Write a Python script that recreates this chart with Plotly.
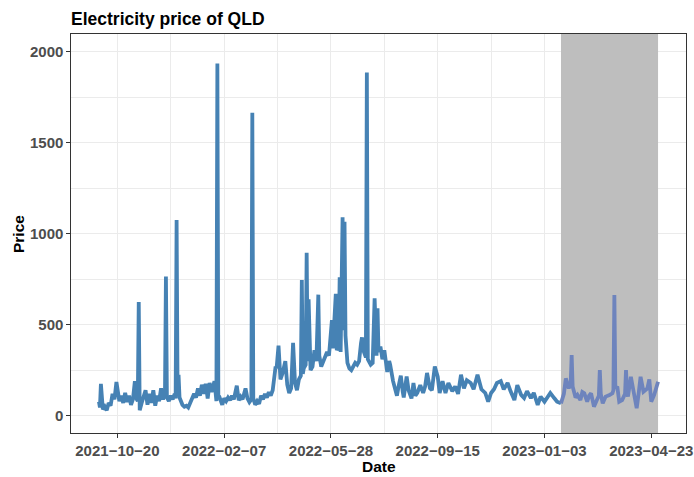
import plotly.graph_objects as go

# ---- data ----
actual_dates = [
    "2021-10-01","2021-10-02","2021-10-03","2021-10-05","2021-10-07","2021-10-09","2021-10-11","2021-10-13",
    "2021-10-15","2021-10-17","2021-10-19","2021-10-22","2021-10-24","2021-10-26","2021-10-28","2021-10-30",
    "2021-11-01","2021-11-03","2021-11-05","2021-11-07","2021-11-09","2021-11-10","2021-11-11","2021-11-12",
    "2021-11-14","2021-11-16","2021-11-18","2021-11-20","2021-11-22","2021-11-24","2021-11-26","2021-11-28",
    "2021-11-30","2021-12-02","2021-12-04","2021-12-06","2021-12-08","2021-12-09","2021-12-10","2021-12-12",
    "2021-12-14","2021-12-16","2021-12-18","2021-12-19","2021-12-20","2021-12-21","2021-12-22","2021-12-23",
    "2021-12-26","2021-12-28","2021-12-30","2022-01-01","2022-01-03","2022-01-05","2022-01-07","2022-01-09",
    "2022-01-11","2022-01-13","2022-01-15","2022-01-17","2022-01-19","2022-01-21","2022-01-23","2022-01-25",
    "2022-01-28","2022-01-30","2022-01-31","2022-02-01","2022-02-02","2022-02-05","2022-02-07","2022-02-09",
    "2022-02-11","2022-02-13","2022-02-15","2022-02-17","2022-02-20","2022-02-22","2022-02-24","2022-02-26",
    "2022-03-01","2022-03-03","2022-03-05","2022-03-07","2022-03-08","2022-03-09","2022-03-11","2022-03-13",
    "2022-03-15","2022-03-17","2022-03-19","2022-03-21","2022-03-23","2022-03-25","2022-03-27","2022-03-29",
    "2022-04-01","2022-04-02","2022-04-04","2022-04-06","2022-04-08","2022-04-11","2022-04-13","2022-04-15",
    "2022-04-17","2022-04-19","2022-04-21","2022-04-23","2022-04-25","2022-04-27","2022-04-28","2022-04-29",
    "2022-04-30","2022-05-02","2022-05-03","2022-05-04","2022-05-05","2022-05-07","2022-05-09","2022-05-11",
    "2022-05-13","2022-05-15","2022-05-16","2022-05-18","2022-05-20","2022-05-22","2022-05-24","2022-05-26",
    "2022-05-29","2022-05-30","2022-06-02","2022-06-03","2022-06-05","2022-06-06","2022-06-07","2022-06-09",
    "2022-06-10","2022-06-11","2022-06-12","2022-06-14","2022-06-16","2022-06-18","2022-06-20","2022-06-22",
    "2022-06-24","2022-06-26","2022-06-28","2022-06-29","2022-07-01","2022-07-03","2022-07-04","2022-07-05",
    "2022-07-06","2022-07-08","2022-07-10","2022-07-12","2022-07-14","2022-07-15","2022-07-16","2022-07-18",
    "2022-07-20","2022-07-22","2022-07-25","2022-07-27","2022-07-28","2022-07-30","2022-07-31","2022-08-02",
    "2022-08-04","2022-08-06","2022-08-08","2022-08-10","2022-08-11","2022-08-14","2022-08-16","2022-08-19",
    "2022-08-21","2022-08-23","2022-08-25","2022-08-28","2022-08-31","2022-09-02","2022-09-04","2022-09-07",
    "2022-09-09","2022-09-12","2022-09-15","2022-09-17","2022-09-20","2022-09-23","2022-09-26","2022-09-30",
    "2022-10-03","2022-10-06","2022-10-09","2022-10-12","2022-10-15","2022-10-19","2022-10-22","2022-10-26",
    "2022-10-30","2022-11-03","2022-11-06","2022-11-09","2022-11-12","2022-11-15","2022-11-19","2022-11-22",
    "2022-11-26","2022-11-29","2022-12-03","2022-12-06","2022-12-10","2022-12-13","2022-12-16","2022-12-20",
    "2022-12-23","2022-12-27","2022-12-30","2023-01-03","2023-01-06","2023-01-09","2023-01-13","2023-01-16",
    "2023-01-20",
]
actual_prices = [
    77, 45, 175, 35, 50, 30, 70, 55,
    120, 90, 185, 80, 110, 70, 125, 75,
    110, 60, 90, 190, 90, 80, 625, 30,
    70, 110, 140, 60, 120, 70, 140, 55,
    110, 80, 150, 90, 120, 765, 100, 80,
    110, 90, 120, 95, 1075, 110, 225, 100,
    60, 50, 55, 45, 70, 90, 120, 100,
    150, 110, 170, 120, 175, 95, 180, 130,
    190, 80, 1935, 110, 105, 60, 95, 80,
    100, 85, 110, 90, 165, 85, 105, 90,
    150, 95, 75, 90, 1665, 95, 60, 80,
    65, 110, 90, 120, 100, 130, 110, 140,
    270, 260, 385, 200, 230, 300, 170, 125,
    150, 400, 180, 140, 200, 220, 745, 230,
    260, 280, 895, 300, 640, 250, 270, 360,
    300, 665, 330, 270, 300, 320, 350, 330,
    525, 370, 670, 360, 380, 760, 350, 1090,
    470, 1065, 440, 290, 260, 250, 270, 290,
    280, 300, 400, 430, 350, 320, 1885, 310,
    300, 280, 290, 645, 330, 590, 350, 380,
    310, 360, 240, 300, 280, 210, 190, 150,
    110, 170, 220, 130, 100, 215, 140, 95,
    180, 110, 125, 168, 125, 160, 235, 150,
    140, 270, 215, 125, 190, 125, 180, 135,
    160, 120, 225, 150, 195, 180, 145, 225,
    145, 125, 77, 125, 145, 180, 190, 145,
    180, 135, 86, 168, 114, 97, 135, 97,
    125, 59, 105, 77, 97, 125, 97, 77,
    68,
]

forecast_dates = [
    "2023-01-20","2023-01-23","2023-01-25","2023-01-28","2023-01-30","2023-01-31","2023-02-01","2023-02-02",
    "2023-02-04","2023-02-06","2023-02-09","2023-02-11","2023-02-13","2023-02-16","2023-02-18","2023-02-20",
    "2023-02-23","2023-02-26","2023-02-28","2023-03-01","2023-03-02","2023-03-04","2023-03-07","2023-03-11",
    "2023-03-14","2023-03-15","2023-03-16","2023-03-17","2023-03-19","2023-03-21","2023-03-24","2023-03-27",
    "2023-03-28","2023-03-29","2023-03-30","2023-04-02","2023-04-05","2023-04-08","2023-04-10","2023-04-12",
    "2023-04-15","2023-04-19","2023-04-21","2023-04-23","2023-04-26","2023-04-30",
]
forecast_prices = [
    68, 120, 205, 150, 180, 333, 160, 132,
    100, 114, 86, 130, 123, 77, 110, 123,
    50, 86, 110, 251, 120, 68, 105, 114,
    123, 140, 663, 150, 160, 77, 86, 120,
    251, 130, 105, 214, 123, 41, 120, 214,
    132, 150, 200, 77, 114, 187,
]

shade_start = "2023-01-20"
shade_end = "2023-04-30"

x_tick_vals = ["2021-10-20", "2022-02-07", "2022-05-28", "2022-09-15", "2023-01-03", "2023-04-23"]
x_minor_vals = ["2021-12-14", "2022-04-03", "2022-07-22", "2022-11-09", "2023-02-27"]
y_tick_vals = [0, 500, 1000, 1500, 2000]
y_minor_vals = [250, 750, 1250, 1750]

x_range = ["2021-09-02 04:48", "2023-05-28 19:12"]
y_range = [-95, 2097]

# ---- figure ----
FONT = "Liberation Sans, Arial, sans-serif"
GRID = "#EBEBEB"

fig = go.Figure()

# shaded forecast window (as a filled trace so it sits above the grid)
fig.add_trace(go.Scatter(
    x=[shade_start, shade_end, shade_end, shade_start, shade_start],
    y=[y_range[0], y_range[0], y_range[1], y_range[1], y_range[0]],
    mode="lines", fill="toself", fillcolor="#BEBEBE",
    line=dict(width=0, color="#BEBEBE"), showlegend=False, hoverinfo="skip",
))

fig.add_trace(go.Scatter(
    x=actual_dates, y=actual_prices, mode="lines",
    line=dict(color="#4682B4", width=3.8), showlegend=False, hoverinfo="skip",
))
fig.add_trace(go.Scatter(
    x=forecast_dates, y=forecast_prices, mode="lines",
    line=dict(color="#6E84BD", width=3.8), showlegend=False, hoverinfo="skip",
))

tick_text = [d.replace("-", "\u2212") for d in x_tick_vals]

fig.update_layout(
    width=694, height=477,
    margin=dict(l=71, r=8, t=34, b=44),
    paper_bgcolor="white", plot_bgcolor="white",
    font=dict(family=FONT, color="#4D4D4D"),
    title=dict(text="<b>Electricity price of QLD</b>", x=71/694, xanchor="left",
               y=1 - 18.5/477, yanchor="middle", yref="container",
               font=dict(size=17.5, color="black", family=FONT)),
    xaxis=dict(
        type="date", range=x_range,
        tickvals=x_tick_vals, ticktext=[f"<b>{t}</b>" for t in tick_text],
        tickfont=dict(size=15, color="#4D4D4D", family=FONT),
        ticks="outside", ticklen=3.5, tickcolor="#333333", tickwidth=1,
        showgrid=True, gridcolor=GRID, gridwidth=1,
        minor=dict(tickvals=x_minor_vals, showgrid=True, gridcolor=GRID, gridwidth=0.5, ticks=""),
        showline=True, linecolor="#333333", linewidth=1.2, mirror=True,
        zeroline=False, automargin=False,
    ),
    yaxis=dict(
        range=y_range,
        tickvals=y_tick_vals, ticktext=[f"<b>{v}</b>" for v in y_tick_vals],
        tickfont=dict(size=15, color="#4D4D4D", family=FONT),
        ticks="outside", ticklen=3.5, tickcolor="#333333", tickwidth=1,
        showgrid=True, gridcolor=GRID, gridwidth=1,
        minor=dict(tickvals=y_minor_vals, showgrid=True, gridcolor=GRID, gridwidth=0.5, ticks=""),
        showline=True, linecolor="#333333", linewidth=1.2, mirror=True,
        zeroline=False, automargin=False,
    ),
    annotations=[
        dict(text="<b>Date</b>", xref="paper", yref="paper", x=0.5, y=-(466 - 433) / 399,
             xanchor="center", yanchor="middle", showarrow=False,
             font=dict(size=15.5, color="black", family=FONT)),
        dict(text="<b>Price</b>", xref="paper", yref="paper", x=-(71 - 18) / 615, y=(433 - 234) / 399,
             xanchor="center", yanchor="middle", showarrow=False, textangle=-90,
             font=dict(size=15.5, color="black", family=FONT)),
    ],
)

fig.write_html("out.html", config={"displayModeBar": False},
               post_script="document.body.style.margin='0px';")
